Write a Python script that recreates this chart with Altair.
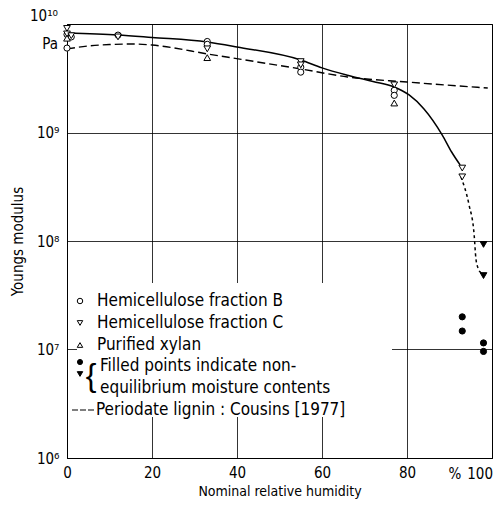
import altair as alt
import pandas as pd

FONT = "DejaVu Sans Condensed, Liberation Sans Narrow, DejaVu Sans, sans-serif"

# ---- data ----
# Hemicellulose fraction B (open circles)
b_rh = [0, 0, 1, 12, 33, 33, 55, 55, 77, 77]
b_E = [6.0e9, 8.0e9, 7.6e9, 7.9e9, 6.9e9, 6.5e9, 4.0e9, 3.6e9, 2.45e9, 2.2e9]
# Hemicellulose fraction C (open down triangles)
c_rh = [0, 0, 1, 12, 33, 55, 55, 77, 93, 93]
c_E = [9.1e9, 8.1e9, 7.8e9, 7.6e9, 5.9e9, 4.5e9, 4.2e9, 2.75e9, 4.7e8, 3.9e8]
# Purified xylan (open up triangles)
x_rh = [0, 33, 77]
x_E = [7.4e9, 4.9e9, 1.87e9]
# Filled points: non-equilibrium moisture contents
bf_rh = [93, 93, 98, 98]
bf_E = [2.0e7, 1.48e7, 1.15e7, 9.6e6]
cf_rh = [98, 98]
cf_E = [9.3e7, 4.8e7]

# Solid curve through hemicellulose data
solid_rh = [0, 12, 20, 33, 40, 55, 60, 66, 72, 77, 80.5, 84, 88.3, 90.5, 92.5]
solid_E = [8.26e9, 7.92e9, 7.51e9, 6.83e9, 6.14e9, 4.66e9, 3.94e9, 3.37e9,
           2.95e9, 2.63e9, 2.22e9, 1.65e9, 9.48e8, 6.61e8, 5.02e8]
# Short-dashed continuation (non-equilibrium)
ext_rh = [92.7, 94.6, 95.8, 96.2, 96.7, 97.4, 97.9]
ext_E = [3.89e8, 2.15e8, 1.14e8, 6.96e7, 5.64e7, 5.07e7, 4.75e7]
# Periodate lignin: Cousins [1977] (dashed)
lig_rh = [0, 5, 10, 16, 20, 34, 41, 55, 66, 80, 99]
lig_E = [5.885e9, 6.27e9, 6.47e9, 6.54e9, 6.40e9, 5.22e9, 4.72e9, 3.85e9,
         3.25e9, 2.92e9, 2.57e9]

legend_rows = ["Hemicellulose fraction B", "Hemicellulose fraction C",
               "Purified xylan", "Filled points indicate non-",
               "equilibrium moisture contents",
               "Periodate lignin : Cousins [1977]"]

x_ticks = [0, 20, 40, 60, 80, 100]
y_ticks = [1e6, 1e7, 1e8, 1e9, 1e10]

# ---- scales ----
xs = alt.Scale(domain=[0, 100], nice=False, zero=False)
ys = alt.Scale(type="log", domain=[1e6, 1e10], nice=False)

xenc = alt.X("rh:Q", scale=xs,
             axis=alt.Axis(values=x_ticks, title="Nominal relative humidity",
                           grid=True, ticks=False, labelPadding=7,
                           titlePadding=4, labelFlush=False,
                           labelExpr="datum.value == 100 ? '' : datum.label"))
yenc = alt.Y("E:Q", scale=ys,
             axis=alt.Axis(values=y_ticks, title="Youngs modulus", grid=True,
                           ticks=False, labelPadding=8, titlePadding=11,
                           labelExpr="datum.value < 2e6 ? '10⁶' : datum.value < 2e7 ? '10⁷' : datum.value < 2e8 ? '10⁸' : datum.value < 2e9 ? '10⁹' : ''"))

def df(rh, E):
    return pd.DataFrame({"rh": rh, "E": E})

lig = alt.Chart(df(lig_rh, lig_E)).mark_line(
    color="black", strokeWidth=1.4, strokeDash=[8, 4], interpolate="monotone"
).encode(x=xenc, y=yenc)

solid = alt.Chart(df(solid_rh, solid_E)).mark_line(
    color="black", strokeWidth=1.5, interpolate="monotone"
).encode(x="rh:Q", y="E:Q")

ext = alt.Chart(df(ext_rh, ext_E)).mark_line(
    color="black", strokeWidth=1.5, strokeDash=[3, 3], interpolate="monotone"
).encode(x="rh:Q", y="E:Q")

def pts(rh, E, shape, filled):
    return alt.Chart(df(rh, E)).mark_point(
        shape=shape, filled=filled, size=38 if shape == "circle" else 45,
        color="black", fill="black" if filled else "white",
        stroke="black", strokeWidth=1, opacity=1
    ).encode(x="rh:Q", y="E:Q")

p_b = pts(b_rh, b_E, "circle", False)
p_c = pts(c_rh, c_E, "triangle-down", False)
p_x = pts(x_rh, x_E, "triangle-up", False)
p_bf = pts(bf_rh, bf_E, "circle", True)
p_cf = pts(cf_rh, cf_E, "triangle-down", True)

# ---- legend (drawn by hand) ----
anchor = alt.Chart(pd.DataFrame({"a": [0]}))
leg_box = anchor.mark_rect(fill="white", stroke=None).encode(
    x=alt.value(10), x2=alt.value(325), y=alt.value(259), y2=alt.value(393))

row_y = [277, 299, 321, 342, 364, 386]
row_x = [30, 30, 30, 33, 33, 29]
leg_text = []
for t, yy, xx in zip(legend_rows, row_y, row_x):
    leg_text.append(anchor.mark_text(
        text=t, align="left", baseline="middle", font=FONT, fontSize=17,
        color="black").encode(x=alt.value(xx), y=alt.value(yy)))

def leg_marker(shape, filled, yy, size=30):
    return anchor.mark_point(shape=shape, filled=filled, size=size,
                             color="black", fill="black" if filled else "white",
                             stroke="black", strokeWidth=1, opacity=1
                             ).encode(x=alt.value(13), y=alt.value(yy))

lm = [leg_marker("circle", False, 277), leg_marker("triangle-down", False, 299),
      leg_marker("triangle-up", False, 321), leg_marker("circle", True, 338, 26),
      leg_marker("triangle-down", True, 350, 30)]

brace = anchor.mark_text(text="{", align="center", baseline="middle",
                         font="Liberation Sans", fontSize=32,
                         color="black").encode(x=alt.value(24), y=alt.value(352))

leg_dash = anchor.mark_rule(color="black", strokeWidth=1.2,
                            strokeDash=[6, 2]).encode(
    x=alt.value(5), x2=alt.value(28), y=alt.value(386))

# ---- extra axis annotations ----
lab10 = anchor.mark_text(text="10¹⁰", align="right", baseline="top",
                         font=FONT, fontSize=15, color="black").encode(
    x=alt.value(-9), y=alt.value(-15))
pa = anchor.mark_text(text="Pa", align="right", baseline="middle",
                      font=FONT, fontSize=15, color="black").encode(
    x=alt.value(-9), y=alt.value(20))
pct = anchor.mark_text(text="%", align="center", baseline="top",
                       font=FONT, fontSize=15, color="black").encode(
    x=alt.value(388), y=alt.value(443))
lab100 = anchor.mark_text(text="100", align="right", baseline="top",
                          font=FONT, fontSize=15, color="black").encode(
    x=alt.value(426), y=alt.value(443))

chart = alt.layer(
    lig, solid, ext, leg_box, p_b, p_c, p_x, p_bf, p_cf,
    *leg_text, *lm, brace, leg_dash, lab10, pa, pct, lab100
).properties(
    width=425, height=434,
    padding={"left": 59, "top": 16, "right": 2, "bottom": 42},
    autosize=alt.AutoSizeParams(type="none"),
    background="white",
).configure_view(
    stroke="black", strokeWidth=1
).configure_axis(
    domainColor="black", domainWidth=1, gridColor="black", gridWidth=0.8,
    gridOpacity=1, labelFont=FONT, titleFont=FONT, labelFontSize=15,
    titleFontSize=14, labelColor="black", titleColor="black",
    titleFontWeight="normal"
).configure_axisY(titleFontSize=15)

chart.save("out.html", embed_options={"renderer": "svg", "actions": False})
